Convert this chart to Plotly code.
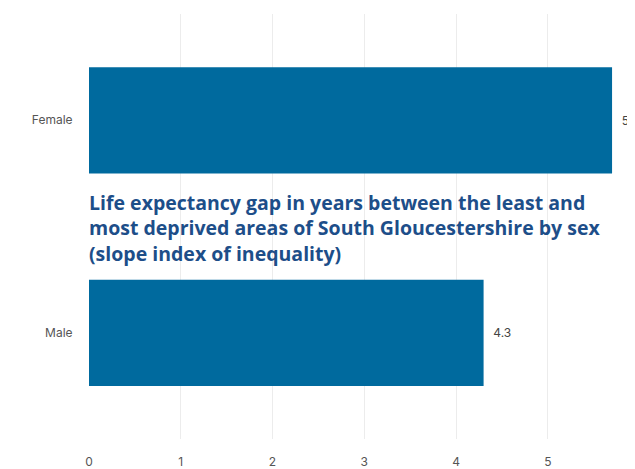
import plotly.graph_objects as go

categories = ["Male", "Female"]
values = [4.3, 5.7]
value_labels = ["4.3", "5.7"]
tick_vals = [0, 1, 2, 3, 4, 5]
title_text = ("Life expectancy gap in years between the least and<br>"
              "most deprived areas of South Gloucestershire by sex<br>"
              "(slope index of inequality)")

fig = go.Figure(go.Bar(
    x=values, y=categories, orientation="h",
    marker=dict(color="#006a9e", line=dict(width=0)),
    text=["  " + t for t in value_labels], textposition="outside", cliponaxis=False,
    textfont=dict(family="Inter, Lato, sans-serif", size=12, color="#444444"),
    width=0.5,
))

fig.update_layout(
    width=635, height=469,
    margin=dict(l=81, r=8, t=5.5, b=37.5, autoexpand=False),
    paper_bgcolor="white", plot_bgcolor="white",
    showlegend=False,
    font=dict(family="Inter, Lato, sans-serif", size=12, color="#555555"),
    xaxis=dict(range=[0, 5.95], tickvals=tick_vals, showgrid=True, automargin=False,
               gridcolor="#ececec", gridwidth=1, zeroline=False,
               showline=False, ticks="outside", ticklen=12, tickcolor="rgba(0,0,0,0)",
               tickfont=dict(size=12, color="#555555")),
    yaxis=dict(range=[-0.5, 1.5], showgrid=False, zeroline=False, automargin=False,
               showline=False, ticks="outside", ticklen=13, tickcolor="rgba(0,0,0,0)",
               tickfont=dict(size=12, color="#555555")),
    annotations=[dict(
        text="<b>" + title_text + "</b>", x=0, xref="paper", xanchor="left",
        xshift=-2, y=0.497, yref="paper", yanchor="middle", showarrow=False,
        align="left",
        font=dict(family="Open Sans, Inter, sans-serif", size=19.5, color="#1d4e89"),
    )],
)

fig.write_html("out.html")
